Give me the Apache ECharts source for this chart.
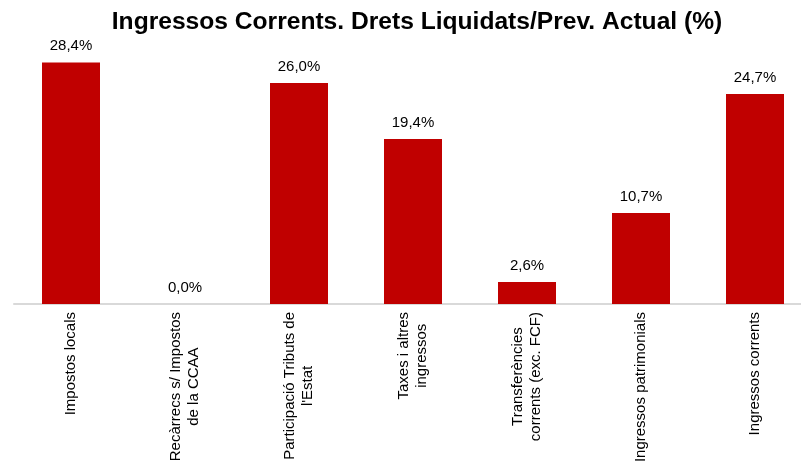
<!DOCTYPE html>
<html>
<head>
<meta charset="utf-8">
<script src="https://cdn.jsdelivr.net/npm/echarts@6/dist/echarts.min.js"></script>
<style>
  html, body { margin: 0; padding: 0; background: #fff; }
  #chart { width: 801px; height: 474px; }
</style>
</head>
<body>
<div id="chart"></div>
<script>
var titleText = "Ingressos Corrents. Drets Liquidats/Prev. Actual (%)";
var categories = [
  "Impostos locals",
  "Recàrrecs s/ Impostos\nde la CCAA",
  "Participació Tributs de\nl'Estat",
  "Taxes i altres\ningressos",
  "Transferències\ncorrents (exc. FCF)",
  "Ingressos patrimonials",
  "Ingressos corrents"
];
var values = [28.4, 0.0, 26.0, 19.4, 2.6, 10.7, 24.7];

var myChart = echarts.init(document.getElementById("chart"));

var option = {
  backgroundColor: "#ffffff",
  animation: false,
  title: {
    text: titleText,
    left: 412,
    textAlign: "center",
    top: 5,
    textStyle: {
      fontFamily: "Liberation Sans, Arial, sans-serif",
      fontWeight: "bold",
      fontSize: 24.6,
      color: "#000"
    }
  },
  grid: {
    left: 14,
    top: 49,
    width: 798,
    height: 255,
    containLabel: false,
    outerBoundsMode: "none"
  },
  xAxis: {
    type: "category",
    data: categories,
    axisLine: { show: true, lineStyle: { color: "#d9d9d9", width: 2 } },
    axisTick: { show: false },
    axisLabel: {
      interval: 0,
      rotate: 90,
      margin: 8,
      color: "#000",
      fontFamily: "Liberation Sans, Arial, sans-serif",
      fontSize: 15,
      lineHeight: 18,
      formatter: function (v) {
        return v.split("\n").map(function (s) { return "{c|" + s + "}"; }).join("\n");
      },
      rich: {
        c: {
          align: "center",
          fontFamily: "Liberation Sans, Arial, sans-serif",
          fontSize: 15,
          lineHeight: 18,
          color: "#000"
        }
      }
    }
  },
  yAxis: {
    type: "value",
    min: 0,
    max: 30,
    show: false,
    splitLine: { show: false }
  },
  series: [{
    type: "bar",
    data: values,
    barWidth: 58,
    itemStyle: { color: "#c00000" },
    label: {
      show: true,
      position: "top",
      distance: 9,
      color: "#000",
      fontFamily: "Liberation Sans, Arial, sans-serif",
      fontSize: 15,
      formatter: function (p) {
        return p.value.toFixed(1).replace(".", ",") + "%";
      }
    }
  }]
};
myChart.setOption(option);
</script>
</body>
</html>
